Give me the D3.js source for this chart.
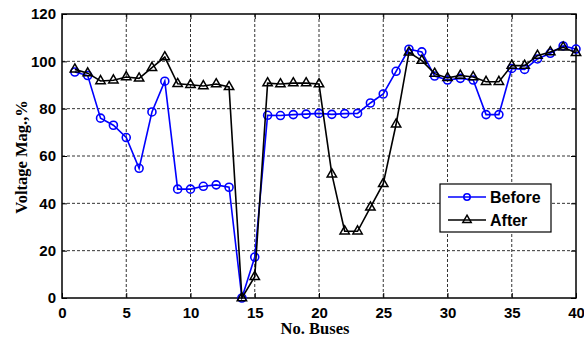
<!DOCTYPE html>
<html><head><meta charset="utf-8">
<script src="https://cdn.jsdelivr.net/npm/d3@7"></script>
<style>body{margin:0;background:#fff}svg{display:block}</style>
</head><body>
<svg id="c" width="584" height="341"></svg>
<script>
const buses = d3.range(1, 41);
const before = [95.5,94,76,73,67.8,54.8,78.6,91.6,46,46,47.2,47.8,46.8,0,17.3,77.2,77.1,77.5,77.7,78,77.6,77.9,78,82.4,86.2,95.8,105.1,104,93.8,92.1,92.8,92.1,77.5,77.5,97,96.6,101,103.4,106.5,105.2];
const after = [96.6,95,91.7,92,93.4,92.8,97.3,101.8,90.5,90.1,89.6,90.4,89.2,0,9,90.8,90.4,90.8,90.8,90.4,52.3,28.2,28.2,38.3,48.3,73.4,103.8,100.3,94.8,93,94,93.4,91.4,91.4,98.2,98.2,102.4,103.9,105.9,103.6];
const xTicks = [0,5,10,15,20,25,30,35,40];
const yTicks = [0,20,40,60,80,100,120];

const svg = d3.select('#c');
const L = 62, R = 576, T = 14, B = 298;
const x = d3.scaleLinear().domain([0,40]).range([L,R]);
const y = d3.scaleLinear().domain([0,120]).range([B,T]);

// grid
const g = svg.append('g');
g.selectAll('.gx').data(xTicks.slice(1,-1)).join('line')
  .attr('x1', d=>x(d)).attr('x2', d=>x(d)).attr('y1', T).attr('y2', B)
  .attr('stroke', '#333').attr('stroke-width', 1).attr('stroke-dasharray', '3,2');
g.selectAll('.gy').data(yTicks.slice(1,-1)).join('line')
  .attr('y1', d=>y(d)).attr('y2', d=>y(d)).attr('x1', L).attr('x2', R)
  .attr('stroke', '#333').attr('stroke-width', 1).attr('stroke-dasharray', '3,2');

// axes
const fontTick = 'bold 15px "Liberation Sans", Arial, sans-serif';
const ax = svg.append('g').attr('transform', `translate(0,${B})`)
  .call(d3.axisBottom(x).tickValues(xTicks).tickSizeInner(-5).tickSizeOuter(0).tickPadding(9));
const ay = svg.append('g').attr('transform', `translate(${L},0)`)
  .call(d3.axisLeft(y).tickValues(yTicks).tickSizeInner(-5).tickSizeOuter(0).tickPadding(6));
const axT = svg.append('g').attr('transform', `translate(0,${T})`)
  .call(d3.axisTop(x).tickValues(xTicks).tickSizeInner(-5).tickSizeOuter(0).tickFormat(''));
const ayR = svg.append('g').attr('transform', `translate(${R},0)`)
  .call(d3.axisRight(y).tickValues(yTicks).tickSizeInner(-5).tickSizeOuter(0).tickFormat(''));
[ax, ay, axT, ayR].forEach(a => {
  a.select('.domain').remove();
  a.selectAll('line').attr('stroke', '#000').attr('stroke-width', 1);
  a.selectAll('text').style('font', fontTick).attr('fill', '#000');
});
svg.append('rect').attr('x', L).attr('y', T).attr('width', R-L).attr('height', B-T)
  .attr('fill', 'none').attr('stroke', '#000').attr('stroke-width', 1.5);

// lines
const line = d3.line().x((d,i)=>x(buses[i])).y(d=>y(d));
svg.append('path').datum(before).attr('d', line).attr('fill','none').attr('stroke','#0000ff').attr('stroke-width',1.6);
svg.append('g').selectAll('circle').data(before).join('circle')
  .attr('cx', (d,i)=>x(buses[i])).attr('cy', d=>y(d)).attr('r', 4)
  .attr('fill','none').attr('stroke','#0000ff').attr('stroke-width',1.6);
svg.append('path').datum(after).attr('d', line).attr('fill','none').attr('stroke','#000').attr('stroke-width',1.6);
const tri = d3.symbol().type(d3.symbolTriangle).size(38);
svg.append('g').selectAll('path').data(after).join('path')
  .attr('d', tri).attr('transform', (d,i)=>`translate(${x(buses[i])},${y(d)})`)
  .attr('fill','none').attr('stroke','#000').attr('stroke-width',1.5);

// legend
const lg = svg.append('g');
lg.append('rect').attr('x', 440).attr('y', 184).attr('width', 111).attr('height', 48)
  .attr('fill', '#fff').attr('stroke', '#000').attr('stroke-width', 1.2);
const triL = d3.symbol().type(d3.symbolTriangle).size(30);
const items = [{name:'Before', color:'#0000ff', m:'c', yy:197},{name:'After', color:'#000', m:'t', yy:220}];
items.forEach(it => {
  lg.append('line').attr('x1', 448).attr('x2', 486).attr('y1', it.yy).attr('y2', it.yy)
    .attr('stroke', it.color).attr('stroke-width', 1.6);
  if (it.m === 'c') lg.append('circle').attr('cx', 467).attr('cy', it.yy).attr('r', 3.2)
    .attr('fill','none').attr('stroke', it.color).attr('stroke-width', 1.6);
  else lg.append('path').attr('d', triL).attr('transform', `translate(467,${it.yy})`)
    .attr('fill','none').attr('stroke','#000').attr('stroke-width',1.5);
  lg.append('text').attr('x', 490).attr('y', it.yy).attr('dy', '0.36em')
    .style('font', 'bold 16px "Liberation Sans", Arial, sans-serif').text(it.name);
});

// axis labels
svg.append('text').attr('x', 315).attr('y', 334).attr('text-anchor', 'middle')
  .style('font', 'bold 16.5px "Liberation Serif", "Times New Roman", serif').text('No. Buses');
svg.append('text').attr('transform', 'translate(27,157) rotate(-90)').attr('text-anchor', 'middle')
  .style('font', 'bold 16.5px "Liberation Serif", "Times New Roman", serif').text('Voltage Mag.,%');
</script>
</body></html>
